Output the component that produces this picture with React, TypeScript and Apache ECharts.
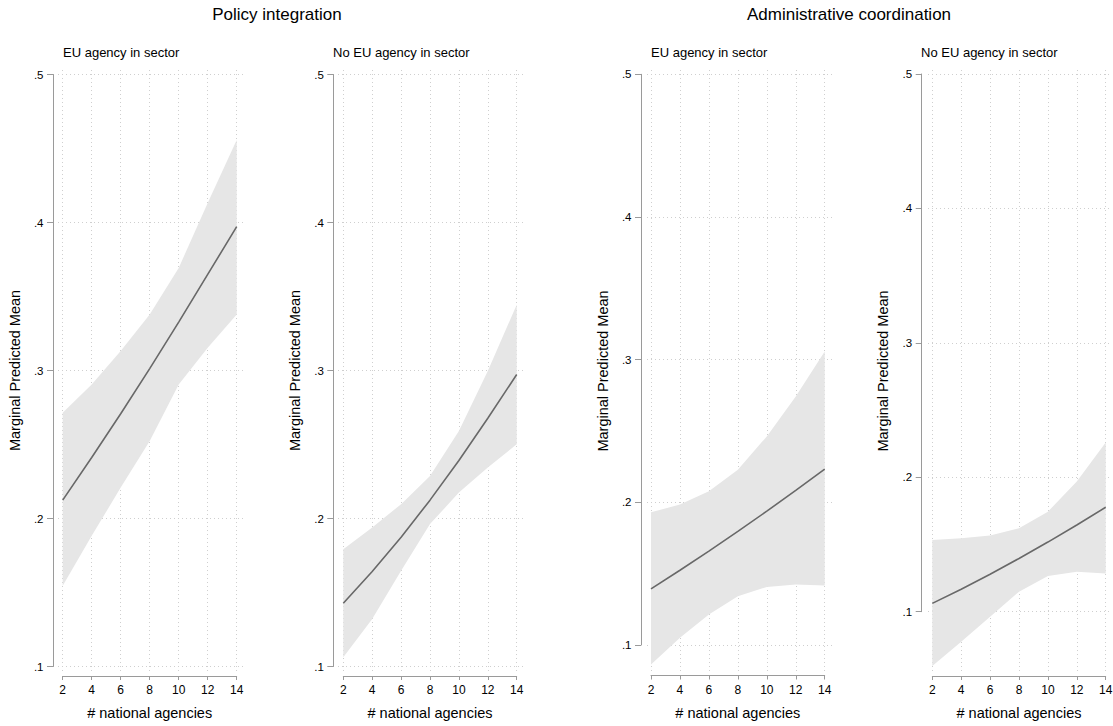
import React, { useEffect, useRef } from "react";
import * as echarts from "echarts";

// ---------- data ----------
const xValues = [2, 4, 6, 8, 10, 12, 14];
const xTicks = [2, 4, 6, 8, 10, 12, 14];
const yTicks = [0.1, 0.2, 0.3, 0.4, 0.5];

const groupTitles = ["Policy integration", "Administrative coordination"];
const panelTitles = [
  "EU agency in sector",
  "No EU agency in sector",
  "EU agency in sector",
  "No EU agency in sector",
];
const yTitle = "Marginal Predicted Mean";
const xTitle = "# national agencies";

// Policy integration - EU agency in sector
const piEuMean = [0.2124, 0.2412, 0.2708, 0.3013, 0.3327, 0.3649, 0.3972];
const piEuLower = [0.1546, 0.1883, 0.2209, 0.2524, 0.2906, 0.3153, 0.3378];
const piEuUpper = [0.2715, 0.2906, 0.3131, 0.3378, 0.3693, 0.4131, 0.4558];

// Policy integration - No EU agency in sector
const piNoMean = [0.1427, 0.1642, 0.1874, 0.2124, 0.2392, 0.2677, 0.2973];
const piNoLower = [0.1063, 0.1321, 0.1647, 0.1962, 0.2175, 0.2344, 0.2501];
const piNoUpper = [0.1793, 0.1939, 0.2097, 0.2288, 0.2591, 0.2996, 0.3445];

// Administrative coordination - EU agency in sector
const acEuMean = [0.1393, 0.1524, 0.1658, 0.1796, 0.1938, 0.2084, 0.2233];
const acEuLower = [0.0863, 0.105, 0.1214, 0.1342, 0.1407, 0.1424, 0.1417];
const acEuUpper = [0.193, 0.1984, 0.2077, 0.2229, 0.2462, 0.2742, 0.3057];

// Administrative coordination - No EU agency in sector
const acNoMean = [0.1062, 0.1167, 0.1279, 0.1396, 0.1518, 0.1645, 0.1777];
const acNoLower = [0.0596, 0.0777, 0.0963, 0.1149, 0.1266, 0.1298, 0.1285];
const acNoUpper = [0.1534, 0.1546, 0.1566, 0.162, 0.1744, 0.1968, 0.2258];

const panelsData = [
  { mean: piEuMean, lower: piEuLower, upper: piEuUpper },
  { mean: piNoMean, lower: piNoLower, upper: piNoUpper },
  { mean: acEuMean, lower: acEuLower, upper: acEuUpper },
  { mean: acNoMean, lower: acNoLower, upper: acNoUpper },
];

// ---------- layout (pixels) ----------
const layouts = [
  { axisX: 53, x2: 62.7, x14: 236.7, y5: 74.5, y1: 666.5, pl: 58, pr: 245, pt: 70, pb: 671, axisY: 676, subX: 63 },
  { axisX: 333.3, x2: 343.3, x14: 516.7, y5: 74.5, y1: 666.5, pl: 338, pr: 525, pt: 70, pb: 671, axisY: 676, subX: 333 },
  { axisX: 641, x2: 651, x14: 824.7, y5: 74.3, y1: 645, pl: 647, pr: 832, pt: 70, pb: 672, axisY: 675.5, subX: 651 },
  { axisX: 921.7, x2: 932.3, x14: 1105.7, y5: 74, y1: 611.7, pl: 928, pr: 1112, pt: 70, pb: 672, axisY: 676, subX: 921 },
];
const groupTitlePos = [
  { x: 277, y: 14 },
  { x: 849, y: 14 },
];

const FONT = "'Liberation Sans', Arial, Helvetica, sans-serif";
const AXIS_COLOR = "#9a9a9a";
const GRID_COLOR = "#cfcfcf";
const BAND_COLOR = "#e6e6e6";
const LINE_COLOR = "#686868";

function buildOption() {
  const grid: any[] = [];
  const xAxis: any[] = [];
  const yAxis: any[] = [];
  const series: any[] = [];
  const graphic: any[] = [];
  const n = layouts.length;

  // axis grids (A): exact tick range, visible axes
  layouts.forEach((L) => {
    grid.push({
      left: L.x2,
      top: L.y5,
      width: L.x14 - L.x2,
      height: L.y1 - L.y5,
      containLabel: false,
      outerBoundsMode: "none",
    });
  });
  // background grids (B): plot region, gridlines and data
  layouts.forEach((L) => {
    grid.push({
      left: L.pl,
      top: L.pt,
      width: L.pr - L.pl,
      height: L.pb - L.pt,
      containLabel: false,
      outerBoundsMode: "none",
    });
  });

  layouts.forEach((L, i) => {
    xAxis.push({
      type: "value",
      gridIndex: i,
      min: 2,
      max: 14,
      interval: 2,
      offset: L.axisY - L.y1,
      axisLine: { show: true, lineStyle: { color: AXIS_COLOR, width: 1 } },
      axisTick: { show: true, length: 4, lineStyle: { color: AXIS_COLOR } },
      axisLabel: { show: true, color: "#000", fontSize: 12, fontFamily: FONT, margin: 8, showMinLabel: true, showMaxLabel: true },
      splitLine: { show: false },
    });
    yAxis.push({
      type: "value",
      gridIndex: i,
      min: 0.1,
      max: 0.5,
      interval: 0.1,
      offset: L.x2 - L.axisX,
      axisLine: { show: true, lineStyle: { color: AXIS_COLOR, width: 1 } },
      axisTick: { show: true, length: 6, lineStyle: { color: AXIS_COLOR } },
      axisLabel: {
        show: true,
        color: "#000",
        fontSize: 11.5,
        fontFamily: FONT,
        margin: 9.5,
        showMinLabel: true,
        showMaxLabel: true,
        formatter: (v: number) => v.toFixed(1).replace(/^0/, ""),
      },
      splitLine: { show: false },
    });
  });

  layouts.forEach((L, i) => {
    const sx = (L.x14 - L.x2) / 12;
    const sy = (L.y1 - L.y5) / 0.4;
    xAxis.push({
      type: "value",
      gridIndex: n + i,
      min: 2 - (L.x2 - L.pl) / sx,
      max: 14 + (L.pr - L.x14) / sx,
      axisLine: { show: false },
      axisTick: { show: false, customValues: xTicks },
      axisLabel: { show: false, customValues: xTicks },
      splitLine: { show: true, lineStyle: { color: GRID_COLOR, width: 1, type: [1, 3] } },
    });
    yAxis.push({
      type: "value",
      gridIndex: n + i,
      min: 0.1 - (L.pb - L.y1) / sy,
      max: 0.5 + (L.y5 - L.pt) / sy,
      axisLine: { show: false },
      axisTick: { show: false, customValues: yTicks },
      axisLabel: { show: false, customValues: yTicks },
      splitLine: { show: true, lineStyle: { color: GRID_COLOR, width: 1, type: [1, 3] } },
    });
  });

  panelsData.forEach((d, i) => {
    const bandData = xValues.map((x, k) => [x, d.lower[k], d.upper[k]]);
    series.push({
      type: "custom",
      xAxisIndex: n + i,
      yAxisIndex: n + i,
      silent: true,
      z: 2,
      encode: { x: 0, y: [1, 2] },
      data: bandData,
      renderItem: (params: any, api: any) => {
        if (params.dataIndex !== 0) return null;
        const top = bandData.map((r) => api.coord([r[0], r[2]]));
        const bottom = bandData.map((r) => api.coord([r[0], r[1]])).reverse();
        return {
          type: "polygon",
          shape: { points: top.concat(bottom) },
          style: { fill: BAND_COLOR, stroke: "none" },
        };
      },
    });
    series.push({
      type: "line",
      xAxisIndex: n + i,
      yAxisIndex: n + i,
      symbol: "none",
      silent: true,
      emphasis: { disabled: true },
      data: xValues.map((x, k) => [x, d.mean[k]]),
      lineStyle: { color: LINE_COLOR, width: 1.6 },
      z: 3,
    });
  });

  groupTitles.forEach((t, g) => {
    graphic.push({
      type: "text",
      x: groupTitlePos[g].x,
      y: groupTitlePos[g].y,
      style: {
        text: t,
        fill: "#000",
        fontSize: 17,
        fontFamily: FONT,
        align: "center",
        verticalAlign: "middle",
        textAlign: "center",
        textVerticalAlign: "middle",
      },
    });
  });

  layouts.forEach((L, i) => {
    graphic.push({
      type: "text",
      x: L.subX,
      y: 52,
      style: {
        text: panelTitles[i],
        fill: "#000",
        fontSize: 13,
        fontFamily: FONT,
        align: "left",
        verticalAlign: "middle",
        textAlign: "left",
        textVerticalAlign: "middle",
      },
    });
    graphic.push({
      type: "text",
      x: L.axisX - 38.5,
      y: (L.pt + L.pb) / 2,
      rotation: Math.PI / 2,
      style: {
        text: yTitle,
        fill: "#000",
        fontSize: 14.5,
        fontFamily: FONT,
        align: "center",
        verticalAlign: "middle",
        textAlign: "center",
        textVerticalAlign: "middle",
      },
    });
    graphic.push({
      type: "text",
      x: (L.x2 + L.x14) / 2,
      y: 713,
      style: {
        text: xTitle,
        fill: "#000",
        fontSize: 14.5,
        fontFamily: FONT,
        align: "center",
        verticalAlign: "middle",
        textAlign: "center",
        textVerticalAlign: "middle",
      },
    });
  });

  return {
    animation: false,
    backgroundColor: "#ffffff",
    textStyle: { fontFamily: FONT },
    grid,
    xAxis,
    yAxis,
    series,
    graphic,
  };
}

export default function App() {
  const ref = useRef<HTMLDivElement>(null);
  useEffect(() => {
    if (!ref.current) return;
    const chart = echarts.init(ref.current, null, { renderer: "svg" });
    chart.setOption(buildOption() as any);
    return () => {
      chart.dispose();
    };
  }, []);
  return (
    <div
      ref={ref}
      style={{ position: "fixed", left: 0, top: 0, width: 1113, height: 726, background: "#fff" }}
    />
  );
}
